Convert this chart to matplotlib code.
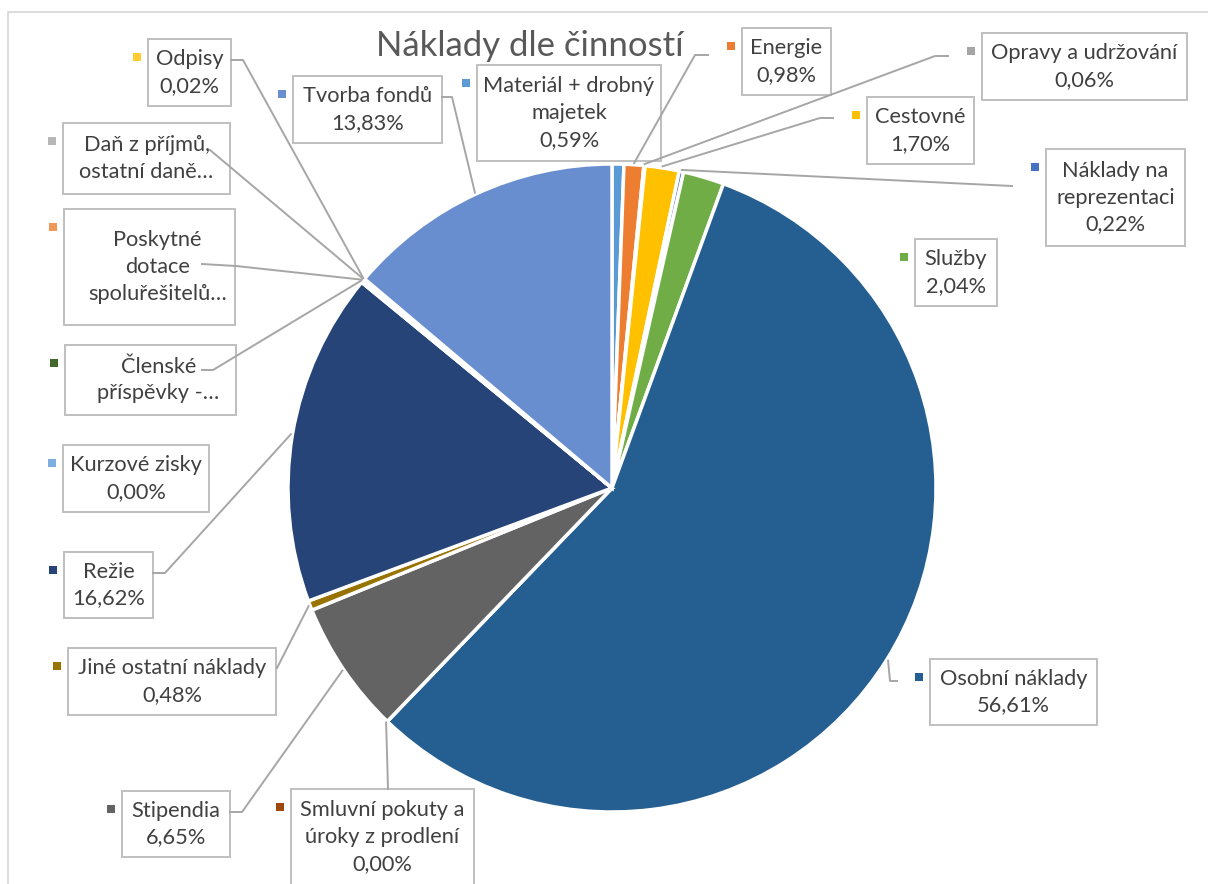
import matplotlib
matplotlib.use("Agg")
import matplotlib.pyplot as plt
from matplotlib.patches import Rectangle
import numpy as np

W, H = 1208, 884

# ---------------- data ----------------
categories = ["Materiál + drobný majetek", "Energie", "Opravy a udržování", "Cestovné",
              "Náklady na reprezentaci", "Služby", "Osobní náklady",
              "Smluvní pokuty a úroky z prodlení", "Stipendia", "Jiné ostatní náklady",
              "Režie", "Kurzové zisky", "Členské příspěvky", "Poskytné dotace spoluřešitelům",
              "Daň z příjmů, ostatní daně", "Odpisy", "Tvorba fondů"]
shares = [0.59, 0.98, 0.06, 1.70, 0.22, 2.04, 56.61, 0.00, 6.65, 0.48,
          16.62, 0.00, 0.05, 0.10, 0.05, 0.02, 13.83]
label_names = ["Materiál + drobný\nmajetek", "Energie", "Opravy a udržování", "Cestovné",
               "Náklady na\nreprezentaci", "Služby", "Osobní náklady",
               "Smluvní pokuty a\núroky z prodlení", "Stipendia", "Jiné ostatní náklady",
               "Režie", "Kurzové zisky", "Členské\npříspěvky -…", "Poskytné\ndotace\nspoluřešitelů…",
               "Daň z příjmů,\nostatní daně…", "Odpisy", "Tvorba fondů"]
show_pct = [True] * 12 + [False, False, False] + [True, True]
title = "Náklady dle činností"

# ---------------- styles / layout ----------------
colors = ["#5B9BD5", "#ED7D31", "#A5A5A5", "#FFC000", "#4472C4", "#70AD47", "#255E91",
          "#9E480E", "#636363", "#997300", "#264478", "#7CAFDD", "#43682B", "#F1975A",
          "#B7B7B7", "#FFCD33", "#698ED0"]
# label boxes (x0, y0, x1, y1) in pixel coordinates, origin top-left
boxes = [(477, 65, 661, 161), (742, 28, 831, 95), (982, 33, 1187, 100), (867, 97, 974, 164),
         (1046, 149, 1185, 246), (915, 239, 997, 306), (930, 659, 1097, 725),
         (291, 789, 474, 900), (122, 791, 230, 857), (68, 648, 276, 715),
         (64, 552, 153, 618), (63, 445, 209, 512), (65, 345, 236, 415),
         (64, 209, 235, 325), (63, 123, 230, 194), (148, 39, 231, 106), (293, 76, 442, 143)]
text_dx = [0, 0, 0, 0, 0, 0, 0, 0, 0, 0, 0, 0, 8, 8, 0, 0, 0]
# leader line start points (before pie anchor), None = no line
leaders = [None, [(708, 55), (695, 55)], [(948, 56), (935, 56)], [(833, 118), (820, 118)],
           [(1012, 186)], None, [(897, 681), (890, 681)], [(388, 789)],
           [(230, 812), (242, 812)], [(277, 668)], [(153, 573), (165, 573)], None,
           [(202, 370), (213, 370)], [(202, 264), (236, 266)], [(210, 150)],
           [(231, 60), (243, 60)], [(442, 97), (452, 97)]]

TEXT = "#404040"
FONT = "Lato"
FS = 15.7

fig = plt.figure(figsize=(W / 100, H / 100), dpi=100)
ax = fig.add_axes([0, 0, 1, 1])
ax.set_xlim(0, W)
ax.set_ylim(0, H)
ax.axis("off")


def P(x, y):
    return x, H - y


# outer chart border
ax.add_patch(Rectangle(P(8, 900), 1220, 888, fill=False, edgecolor="#D9D9D9", linewidth=1.3))

cx, cy, R = 612, 488, 324
wedges, _ = ax.pie(shares, colors=colors, startangle=90, counterclock=False,
                   center=P(cx, cy), radius=R, frame=True,
                   wedgeprops=dict(edgecolor="white", linewidth=2.5))
ax.set_xlim(0, W)
ax.set_ylim(0, H)
ax.set_aspect("equal")
ax.axis("off")

ax.text(*P(530, 46), title, ha="center", va="center", fontsize=25,
        color="#595959", family=FONT)

for i, w in enumerate(wedges):
    x0, y0, x1, y1 = boxes[i]
    ax.add_patch(Rectangle(P(x0, y1), x1 - x0, y1 - y0, facecolor="white",
                           edgecolor="#BFBFBF", linewidth=1.4, zorder=5))
    txt = label_names[i]
    if show_pct[i]:
        txt += "\n" + f"{shares[i]:.2f}".replace(".", ",") + "%"
    n_lines = txt.count("\n") + 1
    ty = y0 + 19 + (n_lines - 1) * 29 / 2 if y1 > H else (y0 + y1) / 2
    ax.text(*P((x0 + x1) / 2 + text_dx[i], ty), txt, ha="center", va="center",
            fontsize=FS, color=TEXT, family=FONT, linespacing=1.42, zorder=7)
    # legend key
    ax.add_patch(Rectangle(P(x0 - 15, y0 + 22), 8, 8, facecolor=colors[i],
                           edgecolor="none", zorder=6))
    if leaders[i] is not None:
        mid = np.deg2rad((w.theta1 + w.theta2) / 2)
        ax_pt = (w.center[0] + w.r * 1.005 * np.cos(mid), w.center[1] + w.r * 1.005 * np.sin(mid))
        pts = [P(*p) for p in leaders[i]] + [ax_pt]
        xs, ys = zip(*pts)
        ax.plot(xs, ys, color="#A6A6A6", linewidth=1.4, zorder=6)

fig.savefig("out.png", dpi=100)
